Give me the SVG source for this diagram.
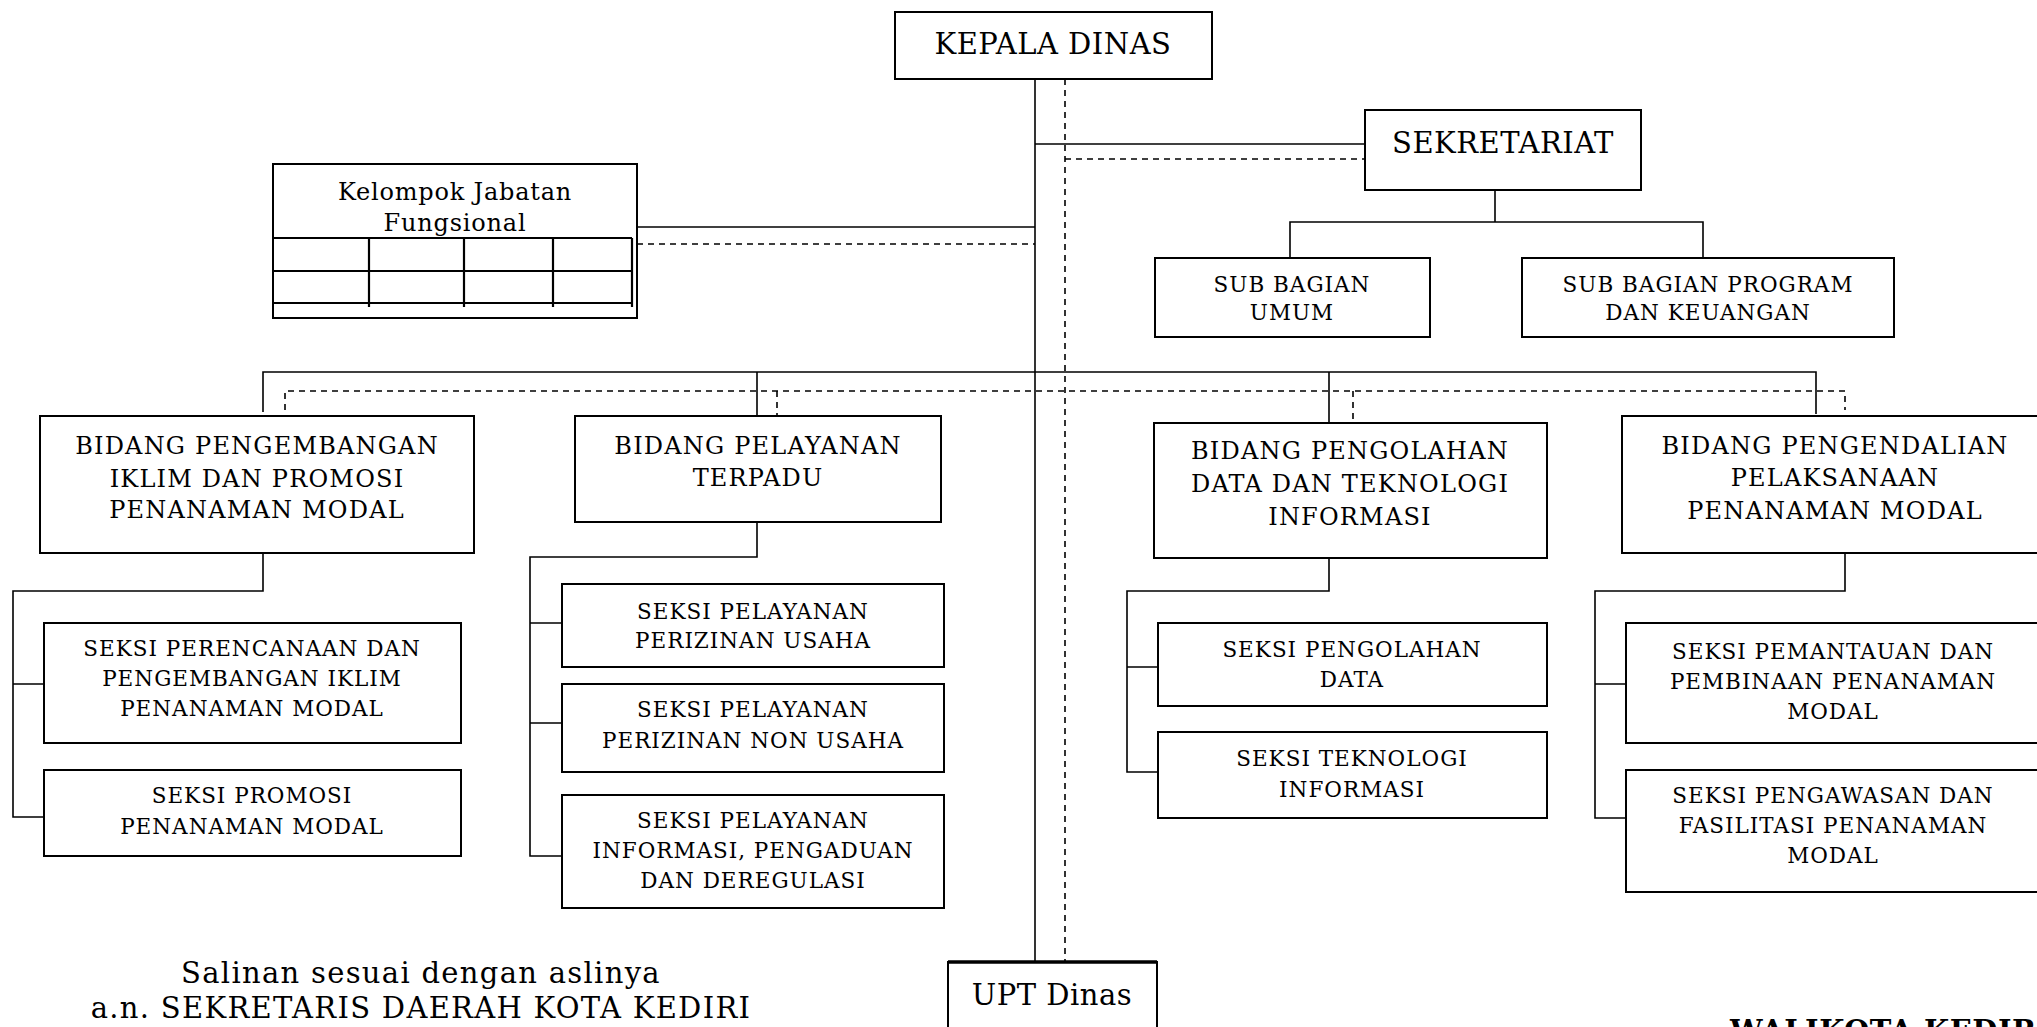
<svg xmlns="http://www.w3.org/2000/svg" width="2037" height="1027" viewBox="0 0 2037 1027">
<style>
text{font-family:"DejaVu Serif","Liberation Serif",serif;fill:#000;text-anchor:middle}
.t30{font-size:29px;letter-spacing:0.5px}
.sig{font-size:29px;letter-spacing:1.3px}
.t24{font-size:24px;letter-spacing:1.2px}
.t21{font-size:21.5px;letter-spacing:1px}
.tk{font-size:24px;letter-spacing:0.8px}
.box{fill:#fff;stroke:#000;stroke-width:2}
.ln{fill:none;stroke:#000;stroke-width:1.6}
.ds{fill:none;stroke:#000;stroke-width:1.6;stroke-dasharray:6 5}
.grid{fill:none;stroke:#000;stroke-width:2.2}
.bold{font-weight:bold;text-anchor:start}
</style>
<g id="connectors">
<path class="ln" d="M1035 79V962"/>
<path class="ds" d="M1065 79V962"/>
<path class="ln" d="M1035 144H1365"/>
<path class="ds" d="M1065 159H1365"/>
<path class="ln" d="M637 227H1035"/>
<path class="ds" d="M637 244H1035"/>
<path class="ln" d="M1495 190V222M1290 258V222H1703V258"/>
<path class="ln" d="M263 412V372H1816V414M757 372V416M1329 372V423"/>
<path class="ds" d="M285 410V391H1845V410M777 391V416M1353 391V423"/>
<path class="ln" d="M263 553V591H13V817H44M13 684H44"/>
<path class="ln" d="M757 522V557H530V856H562M530 623H562M530 723H562"/>
<path class="ln" d="M1329 558V591H1127V772H1158M1127 667H1158"/>
<path class="ln" d="M1845 553V591H1595V818H1626M1595 684H1626"/>
</g>
<g id="kepala-dinas">
<rect class="box" x="895" y="12" width="317" height="67"/>
<text class="t30" x="1053" y="54">KEPALA DINAS</text>
</g>
<g id="sekretariat">
<rect class="box" x="1365" y="110" width="276" height="80"/>
<text class="t30" x="1503" y="153">SEKRETARIAT</text>
</g>
<g id="sub-bagian-umum">
<rect class="box" x="1155" y="258" width="275" height="79"/>
<text class="t21" x="1292" y="292">SUB BAGIAN</text>
<text class="t21" x="1292" y="320">UMUM</text>
</g>
<g id="sub-bagian-program">
<rect class="box" x="1522" y="258" width="372" height="79"/>
<text class="t21" x="1708" y="292">SUB BAGIAN PROGRAM</text>
<text class="t21" x="1708" y="320">DAN KEUANGAN</text>
</g>
<g id="kelompok-jabatan-fungsional">
<rect class="box" x="273" y="164" width="364" height="154"/>
<text class="tk" x="455" y="200">Kelompok Jabatan</text>
<text class="tk" x="455" y="231">Fungsional</text>
<path class="grid" d="M274 238H632M274 271H632M274 303H632M632 238V307M369 238V307M464 238V307M553 238V307"/>
</g>
<g id="bidang-pengembangan">
<rect class="box" x="40" y="416" width="434" height="137"/>
<text class="t24" x="257" y="454">BIDANG PENGEMBANGAN</text>
<text class="t24" x="257" y="487">IKLIM DAN PROMOSI</text>
<text class="t24" x="257" y="518">PENANAMAN MODAL</text>
</g>
<g id="bidang-pelayanan">
<rect class="box" x="575" y="416" width="366" height="106"/>
<text class="t24" x="758" y="454">BIDANG PELAYANAN</text>
<text class="t24" x="758" y="486">TERPADU</text>
</g>
<g id="bidang-pengolahan">
<rect class="box" x="1154" y="423" width="393" height="135"/>
<text class="t24" x="1350" y="459">BIDANG PENGOLAHAN</text>
<text class="t24" x="1350" y="492">DATA DAN TEKNOLOGI</text>
<text class="t24" x="1350" y="525">INFORMASI</text>
</g>
<g id="bidang-pengendalian">
<rect class="box" x="1622" y="416" width="420" height="137"/>
<text class="t24" x="1835" y="454">BIDANG PENGENDALIAN</text>
<text class="t24" x="1835" y="486">PELAKSANAAN</text>
<text class="t24" x="1835" y="519">PENANAMAN MODAL</text>
</g>
<g id="seksi-perencanaan">
<rect class="box" x="44" y="623" width="417" height="120"/>
<text class="t21" x="252" y="656">SEKSI PERENCANAAN DAN</text>
<text class="t21" x="252" y="686">PENGEMBANGAN IKLIM</text>
<text class="t21" x="252" y="716">PENANAMAN MODAL</text>
</g>
<g id="seksi-promosi">
<rect class="box" x="44" y="770" width="417" height="86"/>
<text class="t21" x="252" y="803">SEKSI PROMOSI</text>
<text class="t21" x="252" y="834">PENANAMAN MODAL</text>
</g>
<g id="seksi-perizinan-usaha">
<rect class="box" x="562" y="584" width="382" height="83"/>
<text class="t21" x="753" y="619">SEKSI PELAYANAN</text>
<text class="t21" x="753" y="648">PERIZINAN USAHA</text>
</g>
<g id="seksi-perizinan-non-usaha">
<rect class="box" x="562" y="684" width="382" height="88"/>
<text class="t21" x="753" y="717">SEKSI PELAYANAN</text>
<text class="t21" x="753" y="748">PERIZINAN NON USAHA</text>
</g>
<g id="seksi-informasi">
<rect class="box" x="562" y="795" width="382" height="113"/>
<text class="t21" x="753" y="828">SEKSI PELAYANAN</text>
<text class="t21" x="753" y="858">INFORMASI, PENGADUAN</text>
<text class="t21" x="753" y="888">DAN DEREGULASI</text>
</g>
<g id="seksi-pengolahan-data">
<rect class="box" x="1158" y="623" width="389" height="83"/>
<text class="t21" x="1352" y="657">SEKSI PENGOLAHAN</text>
<text class="t21" x="1352" y="687">DATA</text>
</g>
<g id="seksi-teknologi">
<rect class="box" x="1158" y="732" width="389" height="86"/>
<text class="t21" x="1352" y="766">SEKSI TEKNOLOGI</text>
<text class="t21" x="1352" y="797">INFORMASI</text>
</g>
<g id="seksi-pemantauan">
<rect class="box" x="1626" y="623" width="416" height="120"/>
<text class="t21" x="1833" y="659">SEKSI PEMANTAUAN DAN</text>
<text class="t21" x="1833" y="689">PEMBINAAN PENANAMAN</text>
<text class="t21" x="1833" y="719">MODAL</text>
</g>
<g id="seksi-pengawasan">
<rect class="box" x="1626" y="770" width="416" height="122"/>
<text class="t21" x="1833" y="803">SEKSI PENGAWASAN DAN</text>
<text class="t21" x="1833" y="833">FASILITASI PENANAMAN</text>
<text class="t21" x="1833" y="863">MODAL</text>
</g>
<g id="upt-dinas">
<rect class="box" x="948" y="962" width="209" height="80"/>
<path d="M948 962H1157" stroke="#000" stroke-width="3.5"/>
<text class="t30" x="1052" y="1005">UPT Dinas</text>
</g>
<g id="signature">
<text class="sig" x="421" y="983">Salinan sesuai dengan aslinya</text>
<text class="sig" x="421" y="1018">a.n. SEKRETARIS DAERAH KOTA KEDIRI</text>
<text class="t30 bold" x="1730" y="1041">WALIKOTA KEDIRI</text>
</g>
</svg>
